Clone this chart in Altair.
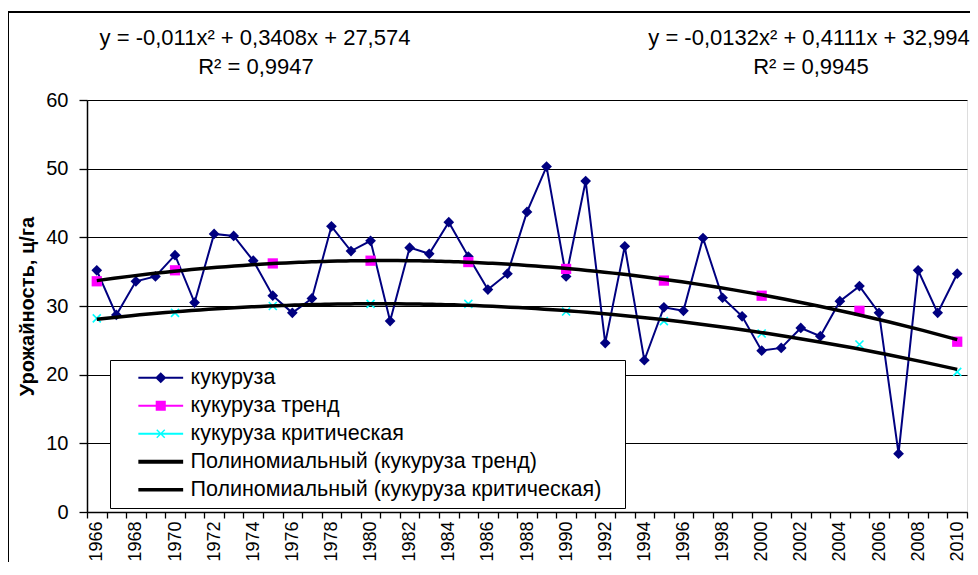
import altair as alt
import pandas as pd

# ---------------- data ----------------
years = [1966, 1967, 1968, 1969, 1970, 1971, 1972, 1973, 1974, 1975,
         1976, 1977, 1978, 1979, 1980, 1981, 1982, 1983, 1984, 1985,
         1986, 1987, 1988, 1989, 1990, 1991, 1992, 1993, 1994, 1995,
         1996, 1997, 1998, 1999, 2000, 2001, 2002, 2003, 2004, 2005,
         2006, 2007, 2008, 2009, 2010]
corn = [35.2, 28.7, 33.6, 34.3, 37.4, 30.5, 40.5, 40.2, 36.6, 31.5,
        29.0, 31.1, 41.6, 38.0, 39.5, 27.8, 38.5, 37.6, 42.2, 37.2,
        32.4, 34.7, 43.7, 50.3, 34.3, 48.2, 24.6, 38.7, 22.1, 29.8,
        29.3, 39.9, 31.2, 28.5, 23.5, 23.9, 26.8, 25.6, 30.7, 32.9,
        29.0, 8.5, 35.2, 29.0, 34.7]
trend_years = [1966, 1970, 1975, 1980, 1985, 1990, 1995, 2000, 2005, 2010]
trend_vals = [33.6, 35.2, 36.2, 36.6, 36.4, 35.4, 33.7, 31.5, 29.3, 24.8]
crit_vals = [28.2, 29.0, 30.0, 30.3, 30.3, 29.2, 27.8, 26.0, 24.4, 20.4]

series_names = ["кукуруза", "кукуруза тренд", "кукуруза критическая",
                "Полиномиальный (кукуруза тренд)",
                "Полиномиальный (кукуруза критическая)"]
series_colors = ["#000080", "#FF00FF", "#00FFFF", "#000000", "#000000"]

x_label_years = [1966, 1968, 1970, 1972, 1974, 1976, 1978, 1980, 1982, 1984,
                 1986, 1988, 1990, 1992, 1994, 1996, 1998, 2000, 2002, 2004,
                 2006, 2008, 2010]
y_ticks = [0, 10, 20, 30, 40, 50, 60]

eq_left = ["y = -0,011x² + 0,3408x + 27,574", "R² = 0,9947"]
eq_right = ["y = -0,0132x² + 0,4111x + 32,994", "R² = 0,9945"]
y_title = "Урожайность, ц/га"

# ---------------- styling ----------------
W, H = 880, 412
FONT = "Liberation Sans"

# legend symbols (filled paths, unit = half symbol size)
legend_paths = [
    "M-3.2,-0.15H3.2V0.15H-3.2Z M0,-0.8L0.8,0L0,0.8L-0.8,0Z",
    "M-3.2,-0.15H3.2V0.15H-3.2Z M-0.72,-0.72H0.72V0.72H-0.72Z",
    "M-3.2,-0.13H3.2V0.13H-3.2Z M-0.5,-0.64L0.64,0.5L0.5,0.64L-0.64,-0.5Z "
    "M0.5,-0.64L0.64,-0.5L-0.5,0.64L-0.64,0.5Z",
    "M-3.2,-0.29H3.2V0.29H-3.2Z",
    "M-3.2,-0.26H3.2V0.26H-3.2Z",
]

df_corn = pd.DataFrame({"year": years, "value": corn})
df_trend = pd.DataFrame({"year": trend_years, "value": trend_vals})
df_crit = pd.DataFrame({"year": trend_years, "value": crit_vals})
df_leg = pd.DataFrame({"series": series_names,
                       "year": [1900] * len(series_names),
                       "value": [0] * len(series_names)})

tick_vals = sorted([y - 0.5 for y in years] + [2010.5] + x_label_years)

x_axis = alt.Axis(
    values=tick_vals,
    labelExpr="datum.value % 2 == 0 ? format(datum.value, 'd') : ''",
    labelAngle=270, labelFont=FONT, labelFontSize=18, labelColor="black",
    labelPadding=3, labelOverlap=False, labelFlush=False,
    tickSize=6, tickColor="black", tickWidth=1.3,
    tickOpacity={"condition": {"test": "datum.value % 1 != 0", "value": 1}, "value": 0},
    domainColor="black", domainWidth=1.5, grid=False, title=None,
)
y_axis = alt.Axis(
    values=y_ticks, grid=True, gridColor="black", gridWidth=1.2,
    tickSize=8, tickColor="black", tickWidth=1.3,
    labelFont=FONT, labelFontSize=20, labelColor="black", labelPadding=11,
    domainColor="black", domainWidth=1.5,
    title=y_title, titleFont=FONT, titleFontSize=20, titleFontWeight="bold",
    titleColor="black", titleAngle=270, titleX=-60, titleY=H / 2,
    titleAlign="center", titleBaseline="middle",
)

xscale = alt.Scale(domain=[1965.5, 2010.5], nice=False, zero=False)
yscale = alt.Scale(domain=[0, 60], nice=False, zero=False)
X = alt.X("year:Q", scale=xscale, axis=x_axis)
Y = alt.Y("value:Q", scale=yscale, axis=y_axis)

corn_line = alt.Chart(df_corn).mark_line(color="#000080", strokeWidth=2).encode(x=X, y=Y)
corn_pts = alt.Chart(df_corn).mark_point(
    shape="diamond", filled=True, size=115, color="#000080", opacity=1
).encode(x=X, y=Y)
trend_pts = alt.Chart(df_trend).mark_point(
    shape="square", filled=True, size=105, color="#FF00FF", opacity=1
).encode(x=X, y=Y)
crit_pts = alt.Chart(df_crit).mark_point(
    shape="M-1,-1L1,1M-1,1L1,-1", filled=False, size=64, color="#00FFFF",
    strokeWidth=1.6, opacity=1
).encode(x=X, y=Y)
trend_fit = alt.Chart(df_trend).transform_regression(
    "year", "value", method="poly", order=2
).mark_line(color="black", strokeWidth=3.5).encode(x=X, y=Y)
crit_fit = alt.Chart(df_crit).transform_regression(
    "year", "value", method="poly", order=2
).mark_line(color="black", strokeWidth=3.5).encode(x=X, y=Y)

leg = alt.Legend(
    orient="none", legendX=23, legendY=260, title=None,
    fillColor="white", strokeColor="black", padding=7,
    labelFont=FONT, labelFontSize=21.5, labelColor="black", labelLimit=0,
    labelExpr="datum.label + '\u2800'",
    symbolSize=196, symbolStrokeWidth=0, symbolOffset=33, labelOffset=19,
    rowPadding=5, direction="vertical",
)
legend_layer = alt.Chart(df_leg).mark_point(
    filled=True, opacity=1, clip=True, size=10
).encode(
    x=X, y=Y,
    color=alt.Color("series:N", scale=alt.Scale(domain=series_names, range=series_colors),
                    legend=leg, sort=series_names),
    shape=alt.Shape("series:N", scale=alt.Scale(domain=series_names, range=legend_paths),
                    legend=leg, sort=series_names),
)


def eq_text(txt, px, py):
    return alt.Chart(pd.DataFrame({"t": [txt]})).mark_text(
        font=FONT, fontSize=22, color="black", align="center", baseline="middle"
    ).encode(text="t:N", x=alt.value(px), y=alt.value(py))


texts = [
    eq_text(eq_left[0], 168, -62), eq_text(eq_left[1], 169, -33),
    eq_text(eq_right[0], 722, -62), eq_text(eq_right[1], 724, -33),
]

frame = alt.Chart(pd.DataFrame({"k": [0]})).mark_rect(
    fill=None, stroke="black", strokeWidth=2, clip=False
).encode(x=alt.value(-79), x2=alt.value(W + 60), y=alt.value(-88), y2=alt.value(H + 80))

chart = alt.layer(
    frame, corn_line, corn_pts, trend_pts, crit_pts, trend_fit, crit_fit,
    legend_layer, *texts
).properties(
    width=W, height=H,
    autosize=alt.AutoSizeParams(type="none"),
    padding={"left": 79, "top": 92, "right": 3, "bottom": 50},
).configure_view(
    fill="#C0C0C0", stroke="#808080", strokeWidth=2
).configure(background="white")

chart.save("out.html", embed_options={"renderer": "svg", "actions": False})
